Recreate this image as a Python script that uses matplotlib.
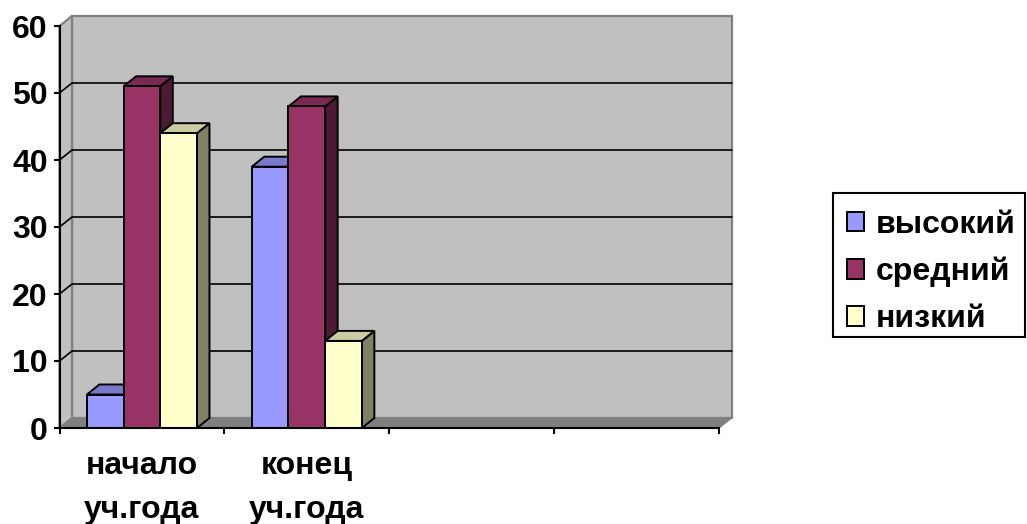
import matplotlib
matplotlib.use("Agg")
import matplotlib.pyplot as plt
from matplotlib.legend_handler import HandlerPatch
from matplotlib.patches import Polygon, Rectangle

plt.rcParams["font.family"] = ["Liberation Sans", "DejaVu Sans"]
plt.rcParams["font.weight"] = "bold"

categories = ["начало\nуч.года", "конец\nуч.года", "", ""]
series_names = ["высокий", "средний", "низкий"]
high = [5, 39]
middle = [51, 48]
low = [44, 13]

front_colors = ["#9999FF", "#993366", "#FFFFCC"]
top_colors = ["#7A7ACC", "#7A2952", "#CCCCA3"]
side_colors = ["#4D4D80", "#4D1A33", "#808066"]

W, H = 1027, 524
LEFT, RIGHT, BOTTOM, TOP = 59.5, 719, 428, 26

fig = plt.figure(figsize=(W / 100, H / 100), dpi=100)
ax = fig.add_axes([LEFT / W, 1 - BOTTOM / H, (RIGHT - LEFT) / W, (BOTTOM - TOP) / H])
ax.set_xlim(0, len(categories))
ax.set_ylim(0, 60)
ax.patch.set_visible(False)

# смещение задней стенки в единицах данных
dx = 12.5 / ((RIGHT - LEFT) / len(categories))
dy = 10 / ((BOTTOM - TOP) / 60)
bar_w = 0.2225


def poly(points, color, z, edge="black", lw=1.4):
    ax.add_patch(Polygon(points, closed=True, facecolor=color, edgecolor=edge,
                         linewidth=lw, zorder=z, clip_on=False, joinstyle="miter"))


xmax = len(categories)
ymax = 60
poly([(dx, dy), (xmax + dx, dy), (xmax + dx, ymax + dy), (dx, ymax + dy)], "#C0C0C0", 1, "#808080", 1.6)
poly([(0, 0), (dx, dy), (dx, ymax + dy), (0, ymax)], "#C0C0C0", 1, "#808080", 1.6)
poly([(0, 0), (xmax, 0), (xmax + dx, dy), (dx, dy)], "#808080", 1.5, "#808080", 1)

for val in range(10, 60, 10):
    ax.plot([0, dx, xmax + dx], [val, val + dy, val + dy], color="black", lw=1.2,
            zorder=2, clip_on=False)

z = 3
handles = []
for s, values in enumerate([high, middle, low]):
    for c, val in enumerate(values):
        x0 = c + 0.5 - 1.5 * bar_w + s * bar_w
        x1 = x0 + bar_w
        poly([(x1, 0), (x1 + dx, dy), (x1 + dx, val + dy), (x1, val)], side_colors[s], z)
        poly([(x0, val), (x1, val), (x1 + dx, val + dy), (x0 + dx, val + dy)], top_colors[s], z)
        z += 1
        bar = ax.bar(x0, val, bar_w, align="edge", color=front_colors[s],
                     edgecolor="black", linewidth=1.4, zorder=z)
        z += 1
    handles.append(bar[0])

for side in ["top", "right"]:
    ax.spines[side].set_visible(False)
for side in ["left", "bottom"]:
    ax.spines[side].set_linewidth(1.5)
    ax.spines[side].set_zorder(30)

ax.set_yticks(range(0, 70, 10))
ax.tick_params(axis="y", labelsize=23, length=4.5, width=1.5, pad=4)
ax.set_xticks(range(xmax + 1))
ax.set_xticklabels([])
ax.tick_params(axis="x", length=4.5, width=1.5)
ax.set_xticks([i + 0.5 for i in range(xmax)], labels=categories, minor=True)
ax.tick_params(axis="x", which="minor", length=0, labelsize=23, pad=16.5)
for label in ax.get_xticklabels(minor=True):
    label.set_linespacing(1.6)

# рамка легенды отдельно: строки в ней сдвинуты вниз относительно центра
fig.add_artist(Rectangle((833 / W, 1 - 337 / H), 192 / W, 144 / H, transform=fig.transFigure,
                         facecolor="white", edgecolor="black", linewidth=1.5, zorder=1))
fig.legend(handles, series_names, loc="center left",
           bbox_to_anchor=(833 / W, 1 - 272 / H), fontsize=23, frameon=False,
           handlelength=0.68, handleheight=0.56, handletextpad=0.35,
           labelspacing=0.53, borderpad=0.3, borderaxespad=0,
           handler_map={Rectangle: HandlerPatch(xpad=0.125)})

fig.savefig("out.png", dpi=100)
